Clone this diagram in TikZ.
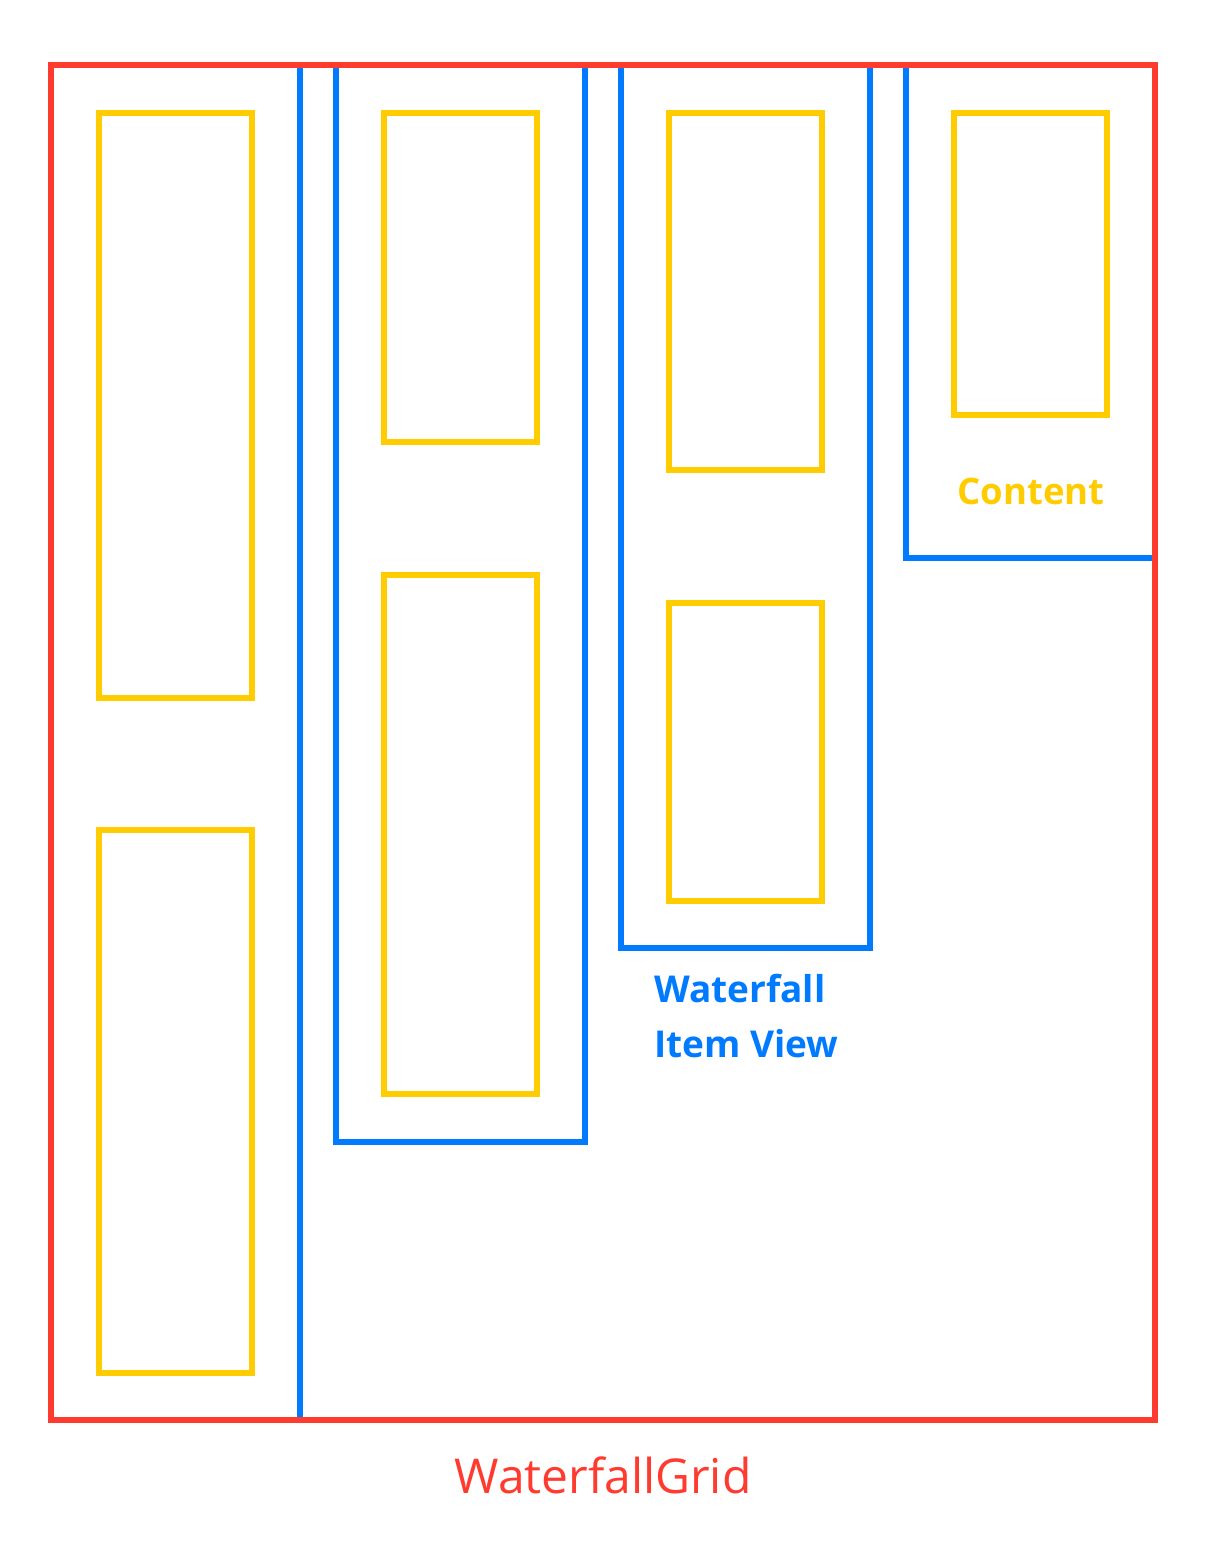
\documentclass[tikz,border=0pt]{standalone}
\usepackage{fontspec}
\setmainfont{Open Sans}
\definecolor{wred}{HTML}{FF3B30}
\definecolor{wblue}{HTML}{007AFF}
\definecolor{wyel}{HTML}{FFCC00}
\begin{document}
\begin{tikzpicture}[x=1pt,y=-1pt,
  gridbox/.style={draw=wred,line width=6pt},
  itembox/.style={draw=wblue,line width=6pt},
  contbox/.style={draw=wyel,line width=6pt}]
\useasboundingbox (0,0) rectangle (1206,1567);
% item views (blue)
\draw[itembox] (51,65) rectangle (300,1420);
\draw[itembox] (336,65) rectangle (585,1142);
\draw[itembox] (621,65) rectangle (870,948);
\draw[itembox] (906,65) rectangle (1155,558);
% contents (yellow)
\draw[contbox] (99,113) rectangle (252,698);
\draw[contbox] (99,830) rectangle (252,1373);
\draw[contbox] (384,113) rectangle (537,442);
\draw[contbox] (384,575) rectangle (537,1094);
\draw[contbox] (669,113) rectangle (822,470);
\draw[contbox] (669,603) rectangle (822,901);
\draw[contbox] (954,113) rectangle (1107,415);
% grid (red)
\draw[gridbox] (51,65) rectangle (1155,1420);
% labels
\node[anchor=base, text=wyel, font=\fontsize{36.5}{40}\selectfont\bfseries, inner sep=0pt] (lcontent) at (1031,504) {Content};
\node[anchor=base west, text=wblue, font=\fontsize{37}{40}\selectfont\bfseries, inner sep=0pt] (litem1) at (654,1002) {Waterfall};
\node[anchor=base west, text=wblue, font=\fontsize{37}{40}\selectfont\bfseries, inner sep=0pt] (litem2) at (654,1057) {Item View};
\node[anchor=base, text=wred, font=\fontsize{48}{52}\selectfont, inner sep=0pt] (lgrid) at (603,1493) {WaterfallGrid};
\end{tikzpicture}
\end{document}
